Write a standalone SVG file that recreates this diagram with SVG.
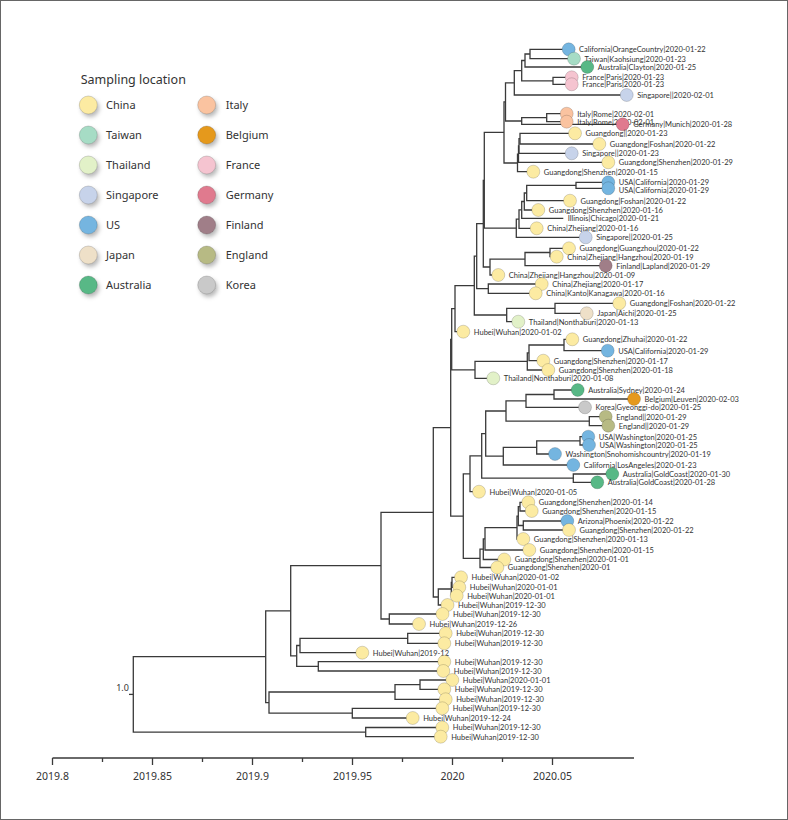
<svg xmlns="http://www.w3.org/2000/svg" width="788" height="820" viewBox="0 0 788 820">
<defs>
<filter id="sh" x="-60%" y="-60%" width="220%" height="220%"><feDropShadow dx="2" dy="3" stdDeviation="2" flood-color="#000" flood-opacity="0.28"/></filter>
</defs>
<style>
.e{fill:none;stroke:#3a3a3a;stroke-width:1.3}
.t{font-family:Lato,"Noto Sans","DejaVu Sans",sans-serif;font-size:7.5px;fill:#333}
.lg{font-family:"Noto Sans","DejaVu Sans",sans-serif;font-size:11px;fill:#333}
.ax{font-family:"Noto Sans","DejaVu Sans",sans-serif;font-size:10.5px;fill:#333;text-anchor:middle}
circle{stroke:rgba(0,0,0,0.2);stroke-width:0.8}
.cn{fill:#FCEBA2}.tw{fill:#A6DCC5}.th{fill:#E2F1C8}.sg{fill:#C7D3EA}.us{fill:#74B5E0}.jp{fill:#EEE0C8}.au{fill:#58B886}
.it{fill:#FAC3A0}.be{fill:#E5991E}.fr{fill:#F5C4D0}.de{fill:#E07A8E}.fi{fill:#A07E88}.en{fill:#B7BA84}.kr{fill:#C9C9C9}
</style>
<rect x="0.5" y="0.5" width="787" height="819" fill="#fff" stroke="#666" stroke-width="1"/>

<g id="legend">
<text x="80.7" y="84" font-family="Noto Sans, DejaVu Sans, sans-serif" font-size="12.5" fill="#333">Sampling location</text>
<g id="lg-china"><circle cx="88.3" cy="105" r="9" class="cn" filter="url(#sh)"/><text class="lg" x="106" y="109">China</text></g>
<g id="lg-taiwan"><circle cx="88.3" cy="135" r="9" class="tw" filter="url(#sh)"/><text class="lg" x="106" y="139">Taiwan</text></g>
<g id="lg-thailand"><circle cx="88.3" cy="165" r="9" class="th" filter="url(#sh)"/><text class="lg" x="106" y="169">Thailand</text></g>
<g id="lg-singapore"><circle cx="88.3" cy="195" r="9" class="sg" filter="url(#sh)"/><text class="lg" x="106" y="199">Singapore</text></g>
<g id="lg-us"><circle cx="88.3" cy="225" r="9" class="us" filter="url(#sh)"/><text class="lg" x="106" y="229">US</text></g>
<g id="lg-japan"><circle cx="88.3" cy="255" r="9" class="jp" filter="url(#sh)"/><text class="lg" x="106" y="259">Japan</text></g>
<g id="lg-australia"><circle cx="88.3" cy="285" r="9" class="au" filter="url(#sh)"/><text class="lg" x="106" y="289">Australia</text></g>
<g id="lg-italy"><circle cx="206.7" cy="105" r="9" class="it" filter="url(#sh)"/><text class="lg" x="225.7" y="109">Italy</text></g>
<g id="lg-belgium"><circle cx="206.7" cy="135" r="9" class="be" filter="url(#sh)"/><text class="lg" x="225.7" y="139">Belgium</text></g>
<g id="lg-france"><circle cx="206.7" cy="165" r="9" class="fr" filter="url(#sh)"/><text class="lg" x="225.7" y="169">France</text></g>
<g id="lg-germany"><circle cx="206.7" cy="195" r="9" class="de" filter="url(#sh)"/><text class="lg" x="225.7" y="199">Germany</text></g>
<g id="lg-finland"><circle cx="206.7" cy="225" r="9" class="fi" filter="url(#sh)"/><text class="lg" x="225.7" y="229">Finland</text></g>
<g id="lg-england"><circle cx="206.7" cy="255" r="9" class="en" filter="url(#sh)"/><text class="lg" x="225.7" y="259">England</text></g>
<g id="lg-korea"><circle cx="206.7" cy="285" r="9" class="kr" filter="url(#sh)"/><text class="lg" x="225.7" y="289">Korea</text></g>
</g>

<g id="connectors">
<path class="e" d="M568.7,49.3H530V58.7H574"/>
<path class="e" d="M530,54H525V67H587.3"/>
<path class="e" d="M571.7,77.3H553V84.3H571.7"/>
<path class="e" d="M525,60.5H521.7V80.8H553"/>
<path class="e" d="M521.7,70.7H514.3V95H626.7"/>
<path class="e" d="M566.7,113.7H546.7V121.7H566.7"/>
<path class="e" d="M546.7,117.7H521.7V124.3H622.7"/>
<path class="e" d="M514.3,82.8H505.5V121H521.7"/>
<path class="e" d="M575,133.3H520V144H599.3"/>
<path class="e" d="M520,138.7H519V153.3H571.7"/>
<path class="e" d="M519,146H518.5V162.3H608.3"/>
<path class="e" d="M518.5,154.2H517.5V171.7H533.3"/>
<path class="e" d="M505.5,101.9H504V163H517.5"/>
<path class="e" d="M608.3,182.3H576V188.3H608.3"/>
<path class="e" d="M576,185.3H526.7V200.7H570"/>
<path class="e" d="M526.7,193H524.3V210H538.3"/>
<path class="e" d="M524.3,201.5H521.7V218.3H563.3"/>
<path class="e" d="M521.7,209.9H519V228.3H536.7"/>
<path class="e" d="M519,219.1H516.3V237.3H585.7"/>
<path class="e" d="M504,132.4H484.3V228.2H516.3"/>
<path class="e" d="M569,248.3H550V256.7H556.7"/>
<path class="e" d="M550,252.5H525V265.7H605.7"/>
<path class="e" d="M525,259.1H490V275H498.3"/>
<path class="e" d="M484.3,180.3H483.3V267H490"/>
<path class="e" d="M541.7,284H488.3V293.3H535.7"/>
<path class="e" d="M483.3,223.7H476.7V288.7H488.3"/>
<path class="e" d="M619.3,303.3H555V313.3H586.7"/>
<path class="e" d="M555,308.3H506.7V321.7H518.3"/>
<path class="e" d="M476.7,256.2H474.3V315H506.7"/>
<path class="e" d="M474.3,285.6H455V331.7H463.3"/>
<path class="e" d="M572.3,339.3H564V350.7H607.7"/>
<path class="e" d="M564,345H529V360.7H543.3"/>
<path class="e" d="M529,352.9H527.3V370H548.3"/>
<path class="e" d="M527.3,361.4H475V378.3H493.3"/>
<path class="e" d="M455,308.7H451.7V369.9H475"/>
<path class="e" d="M577.7,390H554V399H634"/>
<path class="e" d="M554,394.5H526V407.3H585"/>
<path class="e" d="M605.7,416.7H589.3V425.7H608.3"/>
<path class="e" d="M526,400.9H506V421.2H589.3"/>
<path class="e" d="M588.3,436.7H580V445H589"/>
<path class="e" d="M580,440.9H536.7V454H555"/>
<path class="e" d="M536.7,447.4H503.3V465H573.3"/>
<path class="e" d="M506,411H485.7V456.2H503.3"/>
<path class="e" d="M612.3,474H573.3V482.3H597.3"/>
<path class="e" d="M485.7,433.6H481.7V478.2H573.3"/>
<path class="e" d="M481.7,455.9H470V491.7H479"/>
<path class="e" d="M528.3,502.3H520V511H531.7"/>
<path class="e" d="M567.3,521H523.3V530H569"/>
<path class="e" d="M520,506.7H518.3V525.5H523.3"/>
<path class="e" d="M518.3,516.1H517V539H523.3"/>
<path class="e" d="M517,527.6H485V550H529.3"/>
<path class="e" d="M485,538.8H483.3V559.5H504.3"/>
<path class="e" d="M483.3,549.2H480V567.5H497.3"/>
<path class="e" d="M470,473.8H463.3V558.3H480"/>
<path class="e" d="M451.7,339.3H450.7V516.1H463.3"/>
<path class="e" d="M461,577.3H452V587.3H459.3"/>
<path class="e" d="M452,582.3H451.3V595.7H456.7"/>
<path class="e" d="M451.3,589H438.3V605H447.5"/>
<path class="e" d="M450.7,427.7H433.3V597H438.3"/>
<path class="e" d="M442.5,614H389.3V624H419"/>
<path class="e" d="M433.3,512.3H381V619H389.3"/>
<path class="e" d="M445.7,633.3H407.7V643.3H444.3"/>
<path class="e" d="M407.7,638.3H300V652.7H362.3"/>
<path class="e" d="M444.3,661.7H318.3V671H443.3"/>
<path class="e" d="M300,645.5H296.7V666.4H318.3"/>
<path class="e" d="M381,565.7H290.7V655.9H296.7"/>
<path class="e" d="M452.3,680H420V689.3H444.3"/>
<path class="e" d="M420,684.7H395V699.3H445.7"/>
<path class="e" d="M442.3,708.3H352.3V718H412.7"/>
<path class="e" d="M395,692H269V713.2H352.3"/>
<path class="e" d="M290.7,610.8H265.7V702.6H269"/>
<path class="e" d="M442.3,727.5H365.7V736.7H440.7"/>
<path class="e" d="M265.7,656.7H133.3V732.1H365.7"/>
<path class="e" d="M129,694.4H133.3"/>
</g>
<text x="122.5" y="691" font-family="Noto Sans, DejaVu Sans, sans-serif" font-size="9" fill="#333" text-anchor="middle">1.0</text>

<g id="leaves">
<g id="n1"><circle cx="568.7" cy="49.3" r="6.5" class="us"/><text class="t" x="579" y="52">California|OrangeCountry|2020-01-22</text></g>
<g id="n2"><circle cx="574" cy="58.7" r="6.5" class="tw"/><text class="t" x="584.5" y="61.5">Taiwan|Kaohsiung|2020-01-23</text></g>
<g id="n3"><circle cx="587.3" cy="67" r="6.5" class="au"/><text class="t" x="597.8" y="69.8">Australia|Clayton|2020-01-25</text></g>
<g id="n4"><circle cx="571.7" cy="77.3" r="6.5" class="fr"/><text class="t" x="582.2" y="80.1">France|Paris|2020-01-23</text></g>
<g id="n5"><circle cx="571.7" cy="84.3" r="6.5" class="fr"/><text class="t" x="582.2" y="87.1">France|Paris|2020-01-23</text></g>
<g id="n6"><circle cx="626.7" cy="95" r="6.5" class="sg"/><text class="t" x="637.2" y="97.8">Singapore||2020-02-01</text></g>
<g id="n7"><circle cx="566.7" cy="113.7" r="6.5" class="it"/><text class="t" x="577.2" y="116.5">Italy|Rome|2020-02-01</text></g>
<g id="n8"><circle cx="566.7" cy="121.7" r="6.5" class="it"/><text class="t" x="577.2" y="124.5">Italy|Rome|2020-02-01</text></g>
<g id="n9"><circle cx="622.7" cy="124.3" r="6.5" class="de"/><text class="t" x="633.2" y="127.1">Germany|Munich|2020-01-28</text></g>
<g id="n10"><circle cx="575" cy="133.3" r="6.5" class="cn"/><text class="t" x="585.5" y="136.1">Guangdong||2020-01-23</text></g>
<g id="n11"><circle cx="599.3" cy="144" r="6.5" class="cn"/><text class="t" x="609.8" y="146.8">Guangdong|Foshan|2020-01-22</text></g>
<g id="n12"><circle cx="571.7" cy="153.3" r="6.5" class="sg"/><text class="t" x="582.2" y="156.1">Singapore||2020-01-23</text></g>
<g id="n13"><circle cx="608.3" cy="162.3" r="6.5" class="cn"/><text class="t" x="618.8" y="165.1">Guangdong|Shenzhen|2020-01-29</text></g>
<g id="n14"><circle cx="533.3" cy="171.7" r="6.5" class="cn"/><text class="t" x="543.8" y="174.5">Guangdong|Shenzhen|2020-01-15</text></g>
<g id="n15"><circle cx="608.3" cy="182.3" r="6.5" class="us"/><text class="t" x="618.8" y="185.1">USA|California|2020-01-29</text></g>
<g id="n16"><circle cx="608.3" cy="188.3" r="6.5" class="us"/><text class="t" x="618.8" y="193">USA|California|2020-01-29</text></g>
<g id="n17"><circle cx="570" cy="200.7" r="6.5" class="cn"/><text class="t" x="580.5" y="203.5">Guangdong|Foshan|2020-01-22</text></g>
<g id="n18"><circle cx="538.3" cy="210" r="6.5" class="cn"/><text class="t" x="548.8" y="212.8">Guangdong|Shenzhen|2020-01-16</text></g>
<g id="n19"><text class="t" x="567.7" y="221.1">Illinois|Chicago|2020-01-21</text></g>
<g id="n20"><circle cx="536.7" cy="228.3" r="6.5" class="cn"/><text class="t" x="547.2" y="231.1">China|Zhejiang|2020-01-16</text></g>
<g id="n21"><circle cx="585.7" cy="237.3" r="6.5" class="sg"/><text class="t" x="596.2" y="240.1">Singapore||2020-01-25</text></g>
<g id="n22"><circle cx="569" cy="248.3" r="6.5" class="cn"/><text class="t" x="579.5" y="251.1">Guangdong|Guangzhou|2020-01-22</text></g>
<g id="n23"><circle cx="556.7" cy="256.7" r="6.5" class="cn"/><text class="t" x="567.2" y="259.5">China|Zhejiang|Hangzhou|2020-01-19</text></g>
<g id="n24"><circle cx="605.7" cy="265.7" r="6.5" class="fi"/><text class="t" x="616.2" y="268.5">Finland|Lapland|2020-01-29</text></g>
<g id="n25"><circle cx="498.3" cy="275" r="6.5" class="cn"/><text class="t" x="508.8" y="277.8">China|Zhejiang|Hangzhou|2020-01-09</text></g>
<g id="n26"><circle cx="541.7" cy="284" r="6.5" class="cn"/><text class="t" x="552.2" y="286.8">China|Zhejiang|2020-01-17</text></g>
<g id="n27"><circle cx="535.7" cy="293.3" r="6.5" class="cn"/><text class="t" x="546.2" y="296.1">China|Kanto|Kanagawa|2020-01-16</text></g>
<g id="n28"><circle cx="619.3" cy="303.3" r="6.5" class="cn"/><text class="t" x="629.8" y="306.1">Guangdong|Foshan|2020-01-22</text></g>
<g id="n29"><circle cx="586.7" cy="313.3" r="6.5" class="jp"/><text class="t" x="597.2" y="316.1">Japan|Aichi|2020-01-25</text></g>
<g id="n30"><circle cx="518.3" cy="321.7" r="6.5" class="th"/><text class="t" x="528.8" y="324.5">Thailand|Nonthaburi|2020-01-13</text></g>
<g id="n31"><circle cx="463.3" cy="331.7" r="6.5" class="cn"/><text class="t" x="473.8" y="334.5">Hubei|Wuhan|2020-01-02</text></g>
<g id="n32"><circle cx="572.3" cy="339.3" r="6.5" class="cn"/><text class="t" x="582.8" y="342.1">Guangdong|Zhuhai|2020-01-22</text></g>
<g id="n33"><circle cx="607.7" cy="350.7" r="6.5" class="us"/><text class="t" x="618.2" y="353.5">USA|California|2020-01-29</text></g>
<g id="n34"><circle cx="543.3" cy="360.7" r="6.5" class="cn"/><text class="t" x="553.8" y="363.5">Guangdong|Shenzhen|2020-01-17</text></g>
<g id="n35"><circle cx="548.3" cy="370" r="6.5" class="cn"/><text class="t" x="558.8" y="372.8">Guangdong|Shenzhen|2020-01-18</text></g>
<g id="n36"><circle cx="493.3" cy="378.3" r="6.5" class="th"/><text class="t" x="503.8" y="381.1">Thailand|Nonthaburi|2020-01-08</text></g>
<g id="n37"><circle cx="577.7" cy="390" r="6.5" class="au"/><text class="t" x="588.2" y="392.8">Australia|Sydney|2020-01-24</text></g>
<g id="n38"><circle cx="634" cy="399" r="6.5" class="be"/><text class="t" x="644.5" y="401.8">Belgium|Leuven|2020-02-03</text></g>
<g id="n39"><circle cx="585" cy="407.3" r="6.5" class="kr"/><text class="t" x="595.5" y="410.1">Korea|Gyeonggi-do|2020-01-25</text></g>
<g id="n40"><circle cx="605.7" cy="416.7" r="6.5" class="en"/><text class="t" x="616.2" y="419.5">England||2020-01-29</text></g>
<g id="n41"><circle cx="608.3" cy="425.7" r="6.5" class="en"/><text class="t" x="618.8" y="428.5">England||2020-01-29</text></g>
<g id="n42"><circle cx="588.3" cy="436.7" r="6.5" class="us"/><text class="t" x="598.8" y="439.5">USA|Washington|2020-01-25</text></g>
<g id="n43"><circle cx="589" cy="445" r="6.5" class="us"/><text class="t" x="599.5" y="447.8">USA|Washington|2020-01-25</text></g>
<g id="n44"><circle cx="555" cy="454" r="6.5" class="us"/><text class="t" x="565.5" y="456.8">Washington|Snohomishcountry|2020-01-19</text></g>
<g id="n45"><circle cx="573.3" cy="465" r="6.5" class="us"/><text class="t" x="583.8" y="467.8">California|LosAngeles|2020-01-23</text></g>
<g id="n46"><circle cx="612.3" cy="474" r="6.5" class="au"/><text class="t" x="622.8" y="476.8">Australia|GoldCoast|2020-01-30</text></g>
<g id="n47"><circle cx="597.3" cy="482.3" r="6.5" class="au"/><text class="t" x="607.8" y="485.1">Australia|GoldCoast|2020-01-28</text></g>
<g id="n48"><circle cx="479" cy="491.7" r="6.5" class="cn"/><text class="t" x="489.5" y="494.5">Hubei|Wuhan|2020-01-05</text></g>
<g id="n49"><circle cx="528.3" cy="502.3" r="6.5" class="cn"/><text class="t" x="538.8" y="505.1">Guangdong|Shenzhen|2020-01-14</text></g>
<g id="n50"><circle cx="531.7" cy="511" r="6.5" class="cn"/><text class="t" x="542.2" y="513.8">Guangdong|Shenzhen|2020-01-15</text></g>
<g id="n51"><circle cx="567.3" cy="521" r="6.5" class="us"/><text class="t" x="577.8" y="523.8">Arizona|Phoenix|2020-01-22</text></g>
<g id="n52"><circle cx="569" cy="530" r="6.5" class="cn"/><text class="t" x="579.5" y="532.8">Guangdong|Shenzhen|2020-01-22</text></g>
<g id="n53"><circle cx="523.3" cy="539" r="6.5" class="cn"/><text class="t" x="533.8" y="541.8">Guangdong|Shenzhen|2020-01-13</text></g>
<g id="n54"><circle cx="529.3" cy="550" r="6.5" class="cn"/><text class="t" x="539.8" y="552.8">Guangdong|Shenzhen|2020-01-15</text></g>
<g id="n55"><circle cx="504.3" cy="559.5" r="6.5" class="cn"/><text class="t" x="514.8" y="562.3">Guangdong|Shenzhen|2020-01-01</text></g>
<g id="n56"><circle cx="497.3" cy="567.5" r="6.5" class="cn"/><text class="t" x="507.8" y="570.3">Guangdong|Shenzhen|2020-01</text></g>
<g id="n57"><circle cx="461" cy="577.3" r="6.5" class="cn"/><text class="t" x="471.5" y="580.1">Hubei|Wuhan|2020-01-02</text></g>
<g id="n58"><circle cx="459.3" cy="587.3" r="6.5" class="cn"/><text class="t" x="469.8" y="590.1">Hubei|Wuhan|2020-01-01</text></g>
<g id="n59"><circle cx="456.7" cy="595.7" r="6.5" class="cn"/><text class="t" x="467.2" y="598.5">Hubei|Wuhan|2020-01-01</text></g>
<g id="n60"><circle cx="447.5" cy="605" r="6.5" class="cn"/><text class="t" x="458" y="607.8">Hubei|Wuhan|2019-12-30</text></g>
<g id="n61"><circle cx="442.5" cy="614" r="6.5" class="cn"/><text class="t" x="453" y="616.8">Hubei|Wuhan|2019-12-30</text></g>
<g id="n62"><circle cx="419" cy="624" r="6.5" class="cn"/><text class="t" x="429.5" y="626.8">Hubei|Wuhan|2019-12-26</text></g>
<g id="n63"><circle cx="445.7" cy="633.3" r="6.5" class="cn"/><text class="t" x="456.2" y="636.1">Hubei|Wuhan|2019-12-30</text></g>
<g id="n64"><circle cx="444.3" cy="643.3" r="6.5" class="cn"/><text class="t" x="454.8" y="646.1">Hubei|Wuhan|2019-12-30</text></g>
<g id="n65"><circle cx="362.3" cy="652.7" r="6.5" class="cn"/><text class="t" x="372.8" y="655.5">Hubei|Wuhan|2019-12</text></g>
<g id="n66"><circle cx="444.3" cy="661.7" r="6.5" class="cn"/><text class="t" x="454.8" y="664.5">Hubei|Wuhan|2019-12-30</text></g>
<g id="n67"><circle cx="443.3" cy="671" r="6.5" class="cn"/><text class="t" x="453.8" y="673.8">Hubei|Wuhan|2019-12-30</text></g>
<g id="n68"><circle cx="452.3" cy="680" r="6.5" class="cn"/><text class="t" x="462.8" y="682.8">Hubei|Wuhan|2020-01-01</text></g>
<g id="n69"><circle cx="444.3" cy="689.3" r="6.5" class="cn"/><text class="t" x="454.8" y="692.1">Hubei|Wuhan|2019-12-30</text></g>
<g id="n70"><circle cx="445.7" cy="699.3" r="6.5" class="cn"/><text class="t" x="456.2" y="702.1">Hubei|Wuhan|2019-12-30</text></g>
<g id="n71"><circle cx="442.3" cy="708.3" r="6.5" class="cn"/><text class="t" x="452.8" y="711.1">Hubei|Wuhan|2019-12-30</text></g>
<g id="n72"><circle cx="412.7" cy="718" r="6.5" class="cn"/><text class="t" x="423.2" y="720.8">Hubei|Wuhan|2019-12-24</text></g>
<g id="n73"><circle cx="442.3" cy="727.5" r="6.5" class="cn"/><text class="t" x="452.8" y="730.3">Hubei|Wuhan|2019-12-30</text></g>
<g id="n74"><circle cx="440.7" cy="736.7" r="6.5" class="cn"/><text class="t" x="451.2" y="739.5">Hubei|Wuhan|2019-12-30</text></g>
</g>

<g id="axis">
<path class="e" d="M52.5,758H634M52.5,758V765M152.5,758V765M252.5,758V765M352.5,758V765M452.5,758V765M552.5,758V765M102.5,758V762M202.5,758V762M302.5,758V762M402.5,758V762M502.5,758V762" stroke-width="1"/>
<text class="ax" x="52.5" y="780">2019.8</text>
<text class="ax" x="152.5" y="780">2019.85</text>
<text class="ax" x="252.5" y="780">2019.9</text>
<text class="ax" x="352.5" y="780">2019.95</text>
<text class="ax" x="452.5" y="780">2020</text>
<text class="ax" x="552.5" y="780">2020.05</text>
</g>
</svg>
